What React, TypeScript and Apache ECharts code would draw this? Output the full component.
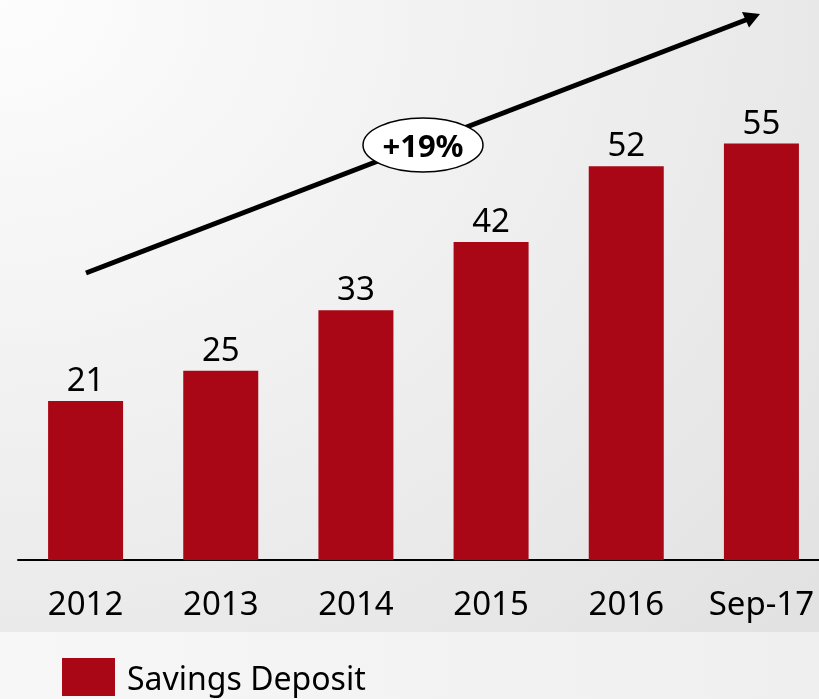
import React, { useEffect, useRef } from "react";
import * as echarts from "echarts";

const categories = ["2012", "2013", "2014", "2015", "2016", "Sep-17"];
const savingsDeposit = [21, 25, 33, 42, 52, 55];
const seriesName = "Savings Deposit";
const growthLabel = "+19%";

const FONT = "'Noto Sans', 'Open Sans', sans-serif";
const BAR_COLOR = "#a90616";
const CHART_W = 830;
const CHART_H = 699;

export default function App() {
  const ref = useRef<HTMLDivElement>(null);

  useEffect(() => {
    if (!ref.current) return;
    const chart = echarts.init(ref.current, null, { renderer: "svg" });
    chart.setOption({
      animation: false,
      backgroundColor: {
        type: "radial",
        x: 0,
        y: 0,
        r: 1.3,
        colorStops: [
          { offset: 0, color: "#fdfdfd" },
          { offset: 1, color: "#e2e2e2" },
        ],
      },
      textStyle: { fontFamily: FONT },
      grid: { left: 18, right: 1, top: 30, bottom: 139 },
      legend: {
        left: 57,
        top: 653,
        icon: "rect",
        itemWidth: 53,
        itemHeight: 38,
        textStyle: {
          fontSize: 32,
          color: "#000",
          fontFamily: FONT,
          padding: [0, 0, 3, 7],
        },
        data: [seriesName],
      },
      xAxis: {
        type: "category",
        data: categories,
        axisLine: { show: true, lineStyle: { color: "#000", width: 2 } },
        axisTick: { show: false },
        axisLabel: {
          fontSize: 33,
          color: "#000",
          margin: 26,
          interval: 0,
          fontFamily: FONT,
        },
      },
      yAxis: {
        type: "value",
        min: 0,
        max: 70,
        show: false,
        splitLine: { show: false },
      },
      series: [
        {
          name: seriesName,
          type: "bar",
          data: savingsDeposit,
          barWidth: 75,
          itemStyle: { color: BAR_COLOR },
          label: {
            show: true,
            position: "top",
            distance: 6,
            fontSize: 33,
            color: "#000",
            fontFamily: FONT,
          },
        },
      ],
      graphic: [
        {
          type: "rect",
          z: 0,
          shape: { x: 0, y: 632, width: CHART_W, height: 67 },
          style: {
            fill: {
              type: "linear",
              x: 0,
              y: 0,
              x2: 1,
              y2: 0,
              colorStops: [
                { offset: 0, color: "#f7f7f7" },
                { offset: 1, color: "#efefef" },
              ],
            },
          },
        },
        {
          type: "line",
          z: 10,
          shape: { x1: 86, y1: 273, x2: 747, y2: 19.5 },
          style: { stroke: "#000", lineWidth: 5 },
        },
        {
          type: "polygon",
          z: 10,
          shape: { points: [[760, 14], [749, 27.5], [742, 12]] },
          style: { fill: "#000" },
        },
        {
          type: "ellipse",
          z: 11,
          shape: { cx: 423, cy: 145, rx: 60, ry: 27 },
          style: { fill: "#fff", stroke: "#000", lineWidth: 1.5 },
        },
        {
          type: "text",
          z: 12,
          x: 423,
          y: 145,
          style: {
            text: growthLabel,
            font: `bold 31px ${FONT}`,
            fill: "#000",
            align: "center",
            verticalAlign: "middle",
          },
        },
      ],
    });
    return () => chart.dispose();
  }, []);

  return (
    <div
      style={{
        position: "fixed",
        left: 0,
        top: 0,
        width: 819,
        height: CHART_H,
        overflow: "hidden",
      }}
    >
      <div ref={ref} style={{ width: CHART_W, height: CHART_H }} />
    </div>
  );
}
